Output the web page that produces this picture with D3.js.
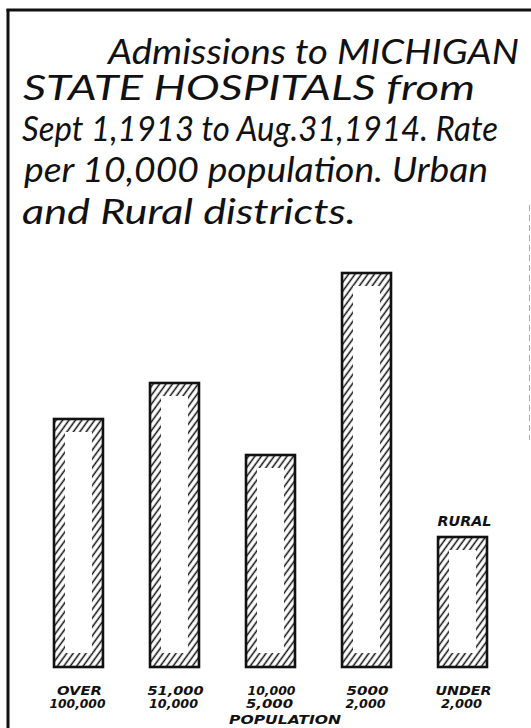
<!DOCTYPE html>
<html>
<head>
<meta charset="utf-8">
<script src="https://cdn.jsdelivr.net/npm/d3@7"></script>
<style>
  body { margin: 0; background: #fff; }
  svg { display: block; }
</style>
</head>
<body>
<div id="chart"></div>
<script>
// data read from the plate (rate per 10,000 population)
const groups = ['over100k', '10k-51k', '5k-10k', '2k-5k', 'under2k'];
const rates = [12.4, 14.2, 10.6, 19.7, 6.5];
const upperLabels = ['OVER', '51,000', '10,000', '5000', 'UNDER'];
const lowerLabels = ['100,000', '10,000', '5,000', '2,000', '2,000'];
const ruralGroup = 'under2k';
const titleLines = [
  'Admissions to MICHIGAN',
  'STATE  HOSPITALS  from',
  'Sept 1,1913 to Aug.31,1914. Rate',
  'per 10,000 population. Urban',
  'and Rural districts.'
];

const W = 531, H = 728;

const svg = d3
  .select('#chart')
  .append('svg')
  .attr('width', W)
  .attr('height', H);

// frame (top + left edges, the right one is only a faint trace on the scan)
svg.append('line')
  .attr('x1', 6.5).attr('y1', 10).attr('x2', W).attr('y2', 10)
  .attr('stroke', '#111').attr('stroke-width', 3);
svg.append('line')
  .attr('x1', 8).attr('y1', 9).attr('x2', 8).attr('y2', H)
  .attr('stroke', '#111').attr('stroke-width', 3);
svg.append('line')
  .attr('x1', 529.5).attr('y1', 205).attr('x2', 529.5).attr('y2', 440)
  .attr('stroke', '#aaa').attr('stroke-width', 1)
  .attr('stroke-dasharray', '6,4');

// title, hand lettered
const titlePos = [
  { x: 108, y: 64, len: 411 },
  { x: 23, y: 100, len: 452 },
  { x: 22, y: 141, len: 476 },
  { x: 24, y: 182, len: 464 },
  { x: 22, y: 224, len: 334 }
];
svg.append('g')
  .selectAll('text')
  .data(titleLines)
  .join('text')
  .attr('x', (d, i) => titlePos[i].x)
  .attr('y', (d, i) => titlePos[i].y)
  .attr('textLength', (d, i) => titlePos[i].len)
  .attr('lengthAdjust', 'spacingAndGlyphs')
  .style('font-family', 'Lato, "DejaVu Sans", sans-serif')
  .style('font-style', 'italic')
  .style('font-size', '34px')
  .style('fill', '#111')
  .text(d => d);

// scales
const x = d3.scaleBand()
  .domain(groups)
  .range([54, 487])
  .paddingInner(0.49)
  .paddingOuter(0);

const y = d3.scaleLinear()
  .domain([0, 20])
  .range([667, 267]);

// hatching
const defs = svg.append('defs');
defs.append('pattern')
  .attr('id', 'hatch')
  .attr('patternUnits', 'userSpaceOnUse')
  .attr('width', 5.2)
  .attr('height', 10)
  .attr('patternTransform', 'rotate(36)')
  .append('line')
  .attr('x1', 1.2).attr('y1', 0).attr('x2', 1.2).attr('y2', 10)
  .attr('stroke', '#111')
  .attr('stroke-width', 1.5);

const bars = svg.append('g')
  .selectAll('g')
  .data(groups.map((g, i) => ({ group: g, rate: rates[i] })))
  .join('g');

const side = 11, topBand = 13, botBand = 14;

bars.append('rect')
  .attr('x', d => x(d.group))
  .attr('y', d => y(d.rate))
  .attr('width', x.bandwidth())
  .attr('height', d => y(0) - y(d.rate))
  .style('fill', 'url(#hatch)');

// white centre of each bar
bars.append('rect')
  .attr('x', d => x(d.group) + side)
  .attr('y', d => y(d.rate) + topBand)
  .attr('width', x.bandwidth() - 2 * side)
  .attr('height', d => Math.max(0, y(0) - y(d.rate) - topBand - botBand))
  .style('fill', '#fff');

bars.append('rect')
  .attr('x', d => x(d.group))
  .attr('y', d => y(d.rate))
  .attr('width', x.bandwidth())
  .attr('height', d => y(0) - y(d.rate))
  .style('fill', 'none')
  .style('stroke', '#111')
  .style('stroke-width', 2.6);

// labels under the bars
const labelFont = sel => sel
  .attr('text-anchor', 'middle')
  .style('font-family', '"DejaVu Sans", sans-serif')
  .style('font-style', 'italic')
  .style('font-weight', 'bold')
  .style('font-size', '12px')
  .style('fill', '#111');

// lettered widths on the plate
const upperWidth = [45, 56, 48, 42, 56];
const lowerWidth = [56, 49, 47, 40, 41];

svg.append('g')
  .selectAll('text')
  .data(upperLabels)
  .join('text')
  .attr('x', (d, i) => x(groups[i]) + x.bandwidth() / 2 + 1)
  .attr('y', 695)
  .attr('textLength', (d, i) => upperWidth[i])
  .attr('lengthAdjust', 'spacingAndGlyphs')
  .call(labelFont)
  .text(d => d);

svg.append('g')
  .selectAll('text')
  .data(lowerLabels)
  .join('text')
  .attr('x', (d, i) => x(groups[i]) + x.bandwidth() / 2 - 1)
  .attr('y', 708)
  .attr('textLength', (d, i) => lowerWidth[i])
  .attr('lengthAdjust', 'spacingAndGlyphs')
  .call(labelFont)
  .text(d => d);

svg.append('text')
  .attr('x', 285)
  .attr('y', 724)
  .attr('textLength', 112)
  .attr('lengthAdjust', 'spacingAndGlyphs')
  .call(labelFont)
  .text('POPULATION');

// rural marker above last bar
const rural = rates[groups.indexOf(ruralGroup)];
svg.append('text')
  .attr('x', x(ruralGroup) + x.bandwidth() / 2 + 2)
  .attr('y', y(rural) - 11)
  .attr('textLength', 54)
  .attr('lengthAdjust', 'spacingAndGlyphs')
  .call(labelFont)
  .style('font-size', '14px')
  .text('RURAL');
</script>
</body>
</html>
